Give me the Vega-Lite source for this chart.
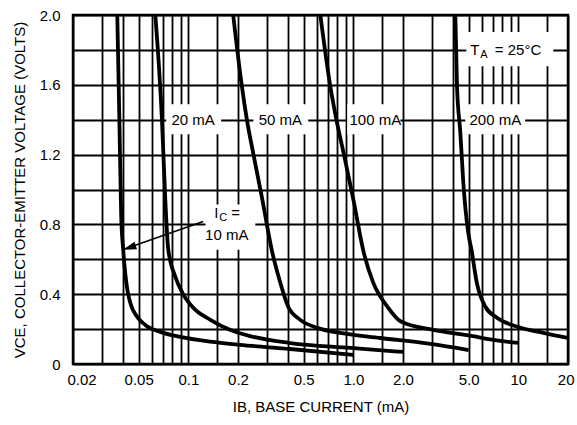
{
  "$schema": "https://vega.github.io/schema/vega-lite/v6.json",
  "width": 495,
  "height": 349,
  "autosize": {"type": "none"},
  "padding": {"left": 73, "top": 15, "right": 9, "bottom": 61},
  "background": "white",
  "config": {
    "view": {"stroke": "black", "strokeWidth": 2.5},
    "font": "Liberation Sans",
    "axis": {
      "gridColor": "black", "gridOpacity": 1, "gridWidth": 1.8,
      "domain": false, "ticks": false,
      "labelColor": "black", "titleColor": "black",
      "labelFont": "Liberation Sans", "titleFont": "Liberation Sans",
      "labelFontSize": 15, "titleFontSize": 15, "titleFontWeight": "normal",
      "labelOverlap": false
    }
  },
  "datasets": {
    "curves": [
      {"ic": "10 mA", "ib": 0.0371, "vce": 2.0},
      {"ic": "10 mA", "ib": 0.0382, "vce": 1.4},
      {"ic": "10 mA", "ib": 0.0392, "vce": 0.845},
      {"ic": "10 mA", "ib": 0.0403, "vce": 0.655},
      {"ic": "10 mA", "ib": 0.0427, "vce": 0.425},
      {"ic": "10 mA", "ib": 0.0445, "vce": 0.35},
      {"ic": "10 mA", "ib": 0.049, "vce": 0.27},
      {"ic": "10 mA", "ib": 0.0548, "vce": 0.224},
      {"ic": "10 mA", "ib": 0.0676, "vce": 0.184},
      {"ic": "10 mA", "ib": 0.0894, "vce": 0.155},
      {"ic": "10 mA", "ib": 0.136, "vce": 0.128},
      {"ic": "10 mA", "ib": 0.206, "vce": 0.11},
      {"ic": "10 mA", "ib": 0.415, "vce": 0.086},
      {"ic": "10 mA", "ib": 1.0, "vce": 0.052},
      {"ic": "20 mA", "ib": 0.0631, "vce": 2.0},
      {"ic": "20 mA", "ib": 0.0692, "vce": 1.4},
      {"ic": "20 mA", "ib": 0.0725, "vce": 0.943},
      {"ic": "20 mA", "ib": 0.0756, "vce": 0.655},
      {"ic": "20 mA", "ib": 0.0834, "vce": 0.5},
      {"ic": "20 mA", "ib": 0.092, "vce": 0.408},
      {"ic": "20 mA", "ib": 0.1057, "vce": 0.328},
      {"ic": "20 mA", "ib": 0.136, "vce": 0.253},
      {"ic": "20 mA", "ib": 0.18, "vce": 0.195},
      {"ic": "20 mA", "ib": 0.237, "vce": 0.16},
      {"ic": "20 mA", "ib": 0.415, "vce": 0.12},
      {"ic": "20 mA", "ib": 0.96, "vce": 0.092},
      {"ic": "20 mA", "ib": 2.0, "vce": 0.069},
      {"ic": "50 mA", "ib": 0.187, "vce": 2.0},
      {"ic": "50 mA", "ib": 0.2109, "vce": 1.594},
      {"ic": "50 mA", "ib": 0.2262, "vce": 1.402},
      {"ic": "50 mA", "ib": 0.2494, "vce": 1.19},
      {"ic": "50 mA", "ib": 0.2807, "vce": 0.943},
      {"ic": "50 mA", "ib": 0.323, "vce": 0.638},
      {"ic": "50 mA", "ib": 0.361, "vce": 0.466},
      {"ic": "50 mA", "ib": 0.403, "vce": 0.328},
      {"ic": "50 mA", "ib": 0.477, "vce": 0.253},
      {"ic": "50 mA", "ib": 0.605, "vce": 0.207},
      {"ic": "50 mA", "ib": 0.834, "vce": 0.178},
      {"ic": "50 mA", "ib": 1.457, "vce": 0.149},
      {"ic": "50 mA", "ib": 2.93, "vce": 0.115},
      {"ic": "50 mA", "ib": 5.0, "vce": 0.08},
      {"ic": "100 mA", "ib": 0.631, "vce": 2.0},
      {"ic": "100 mA", "ib": 0.725, "vce": 1.592},
      {"ic": "100 mA", "ib": 0.789, "vce": 1.402},
      {"ic": "100 mA", "ib": 0.882, "vce": 1.19},
      {"ic": "100 mA", "ib": 1.0, "vce": 0.943},
      {"ic": "100 mA", "ib": 1.157, "vce": 0.638},
      {"ic": "100 mA", "ib": 1.32, "vce": 0.466},
      {"ic": "100 mA", "ib": 1.61, "vce": 0.328},
      {"ic": "100 mA", "ib": 1.93, "vce": 0.245},
      {"ic": "100 mA", "ib": 3.05, "vce": 0.195},
      {"ic": "100 mA", "ib": 4.9, "vce": 0.165},
      {"ic": "100 mA", "ib": 7.78, "vce": 0.132},
      {"ic": "100 mA", "ib": 10.0, "vce": 0.121},
      {"ic": "200 mA", "ib": 4.15, "vce": 2.0},
      {"ic": "200 mA", "ib": 4.25, "vce": 1.592},
      {"ic": "200 mA", "ib": 4.45, "vce": 1.328},
      {"ic": "200 mA", "ib": 4.64, "vce": 1.04},
      {"ic": "200 mA", "ib": 4.97, "vce": 0.753},
      {"ic": "200 mA", "ib": 5.2, "vce": 0.655},
      {"ic": "200 mA", "ib": 5.6, "vce": 0.466},
      {"ic": "200 mA", "ib": 6.31, "vce": 0.328},
      {"ic": "200 mA", "ib": 7.46, "vce": 0.264},
      {"ic": "200 mA", "ib": 9.86, "vce": 0.213},
      {"ic": "200 mA", "ib": 14.17, "vce": 0.178},
      {"ic": "200 mA", "ib": 20.0, "vce": 0.149}
    ],
    "boxes": [
      {"ib": 0.0735, "ib2": 0.158, "vce": 1.316, "vce2": 1.489},
      {"ib": 0.2477, "ib2": 0.533, "vce": 1.316, "vce2": 1.489},
      {"ib": 0.919, "ib2": 1.93, "vce": 1.316, "vce2": 1.489},
      {"ib": 4.77, "ib2": 11.0, "vce": 1.316, "vce2": 1.489},
      {"ib": 4.84, "ib2": 16.3, "vce": 1.707, "vce2": 1.902},
      {"ib": 0.127, "ib2": 0.2546, "vce": 0.655, "vce2": 0.914}
    ],
    "labels": [
      {"text": "20 mA", "ib": 0.107, "vce": 1.4},
      {"text": "50 mA", "ib": 0.361, "vce": 1.4},
      {"text": "100 mA", "ib": 1.36, "vce": 1.4},
      {"text": "200 mA", "ib": 7.25, "vce": 1.4},
      {"text": "10 mA", "ib": 0.171, "vce": 0.741}
    ],
    "pieces": [
      {"text": "T", "ib": 5.12, "vce": 1.8},
      {"text": "= 25°C", "ib": 7.2, "vce": 1.8},
      {"text": "I", "ib": 0.1436, "vce": 0.868},
      {"text": "=", "ib": 0.182, "vce": 0.868}
    ],
    "subs": [
      {"text": "A", "ib": 5.88, "vce": 1.8},
      {"text": "C", "ib": 0.154, "vce": 0.868}
    ],
    "arrow": [
      {"ib": 0.123, "vce": 0.816, "ib2": 0.0415, "vce2": 0.66}
    ],
    "head": [
      {"ib": 0.0403, "vce": 0.655}
    ]
  },
  "encoding": {
    "x": {
      "field": "ib", "type": "quantitative",
      "scale": {"type": "log", "domain": [0.02, 20]},
      "axis": {
        "title": "IB, BASE CURRENT (mA)",
        "values": [0.02, 0.03, 0.04, 0.05, 0.06, 0.07, 0.08, 0.09, 0.1, 0.15, 0.2, 0.3, 0.4, 0.5, 0.6, 0.7, 0.8, 0.9, 1, 1.5, 2, 3, 4, 5, 6, 7, 8, 9, 10, 15, 20],
        "labelExpr": "datum.value == 1 ? '1.0' : datum.value == 2 ? '2.0' : datum.value == 5 ? '5.0' : (indexof([0.02, 0.05, 0.1, 0.2, 0.5, 10, 20], datum.value) >= 0 ? toString(datum.value) : '')",
        "labelFlush": true,
        "labelFlushOffset": 6,
        "labelPadding": 8,
        "titlePadding": 12
      }
    },
    "y": {
      "field": "vce", "type": "quantitative",
      "scale": {"domain": [0, 2]},
      "axis": {
        "title": "VCE, COLLECTOR-EMITTER VOLTAGE (VOLTS)",
        "values": [0, 0.2, 0.4, 0.6, 0.8, 1.0, 1.2, 1.4, 1.6, 1.8, 2.0],
        "labelExpr": "datum.value == 0 ? '0' : (indexof([0.4, 0.8, 1.2, 1.6, 2], datum.value) >= 0 ? format(datum.value, '.1f') : '')",
        "labelPadding": 13,
        "titlePadding": 12
      }
    }
  },
  "layer": [
    {
      "data": {"name": "boxes"},
      "mark": {"type": "rect", "fill": "white", "stroke": null},
      "encoding": {
        "x2": {"field": "ib2"},
        "y2": {"field": "vce2"}
      }
    },
    {
      "data": {"name": "curves"},
      "mark": {"type": "line", "color": "black", "strokeWidth": 3.8, "interpolate": "monotone", "clip": true},
      "encoding": {
        "detail": {"field": "ic", "type": "nominal"}
      }
    },
    {
      "data": {"name": "labels"},
      "mark": {"type": "text", "fontSize": 15, "color": "black", "align": "center", "baseline": "middle"},
      "encoding": {"text": {"field": "text"}}
    },
    {
      "data": {"name": "pieces"},
      "mark": {"type": "text", "fontSize": 15, "color": "black", "align": "left", "baseline": "middle"},
      "encoding": {"text": {"field": "text"}}
    },
    {
      "data": {"name": "subs"},
      "mark": {"type": "text", "fontSize": 11, "color": "black", "align": "left", "baseline": "middle", "dy": 5},
      "encoding": {"text": {"field": "text"}}
    },
    {
      "data": {"name": "arrow"},
      "mark": {"type": "rule", "color": "black", "strokeWidth": 1.6},
      "encoding": {
        "x2": {"field": "ib2"},
        "y2": {"field": "vce2"}
      }
    },
    {
      "data": {"name": "head"},
      "mark": {"type": "point", "shape": "M0,0L-0.3,1L0.3,1Z", "filled": true, "color": "black", "opacity": 1, "size": 700, "angle": 251},
      "encoding": {}
    }
  ]
}
